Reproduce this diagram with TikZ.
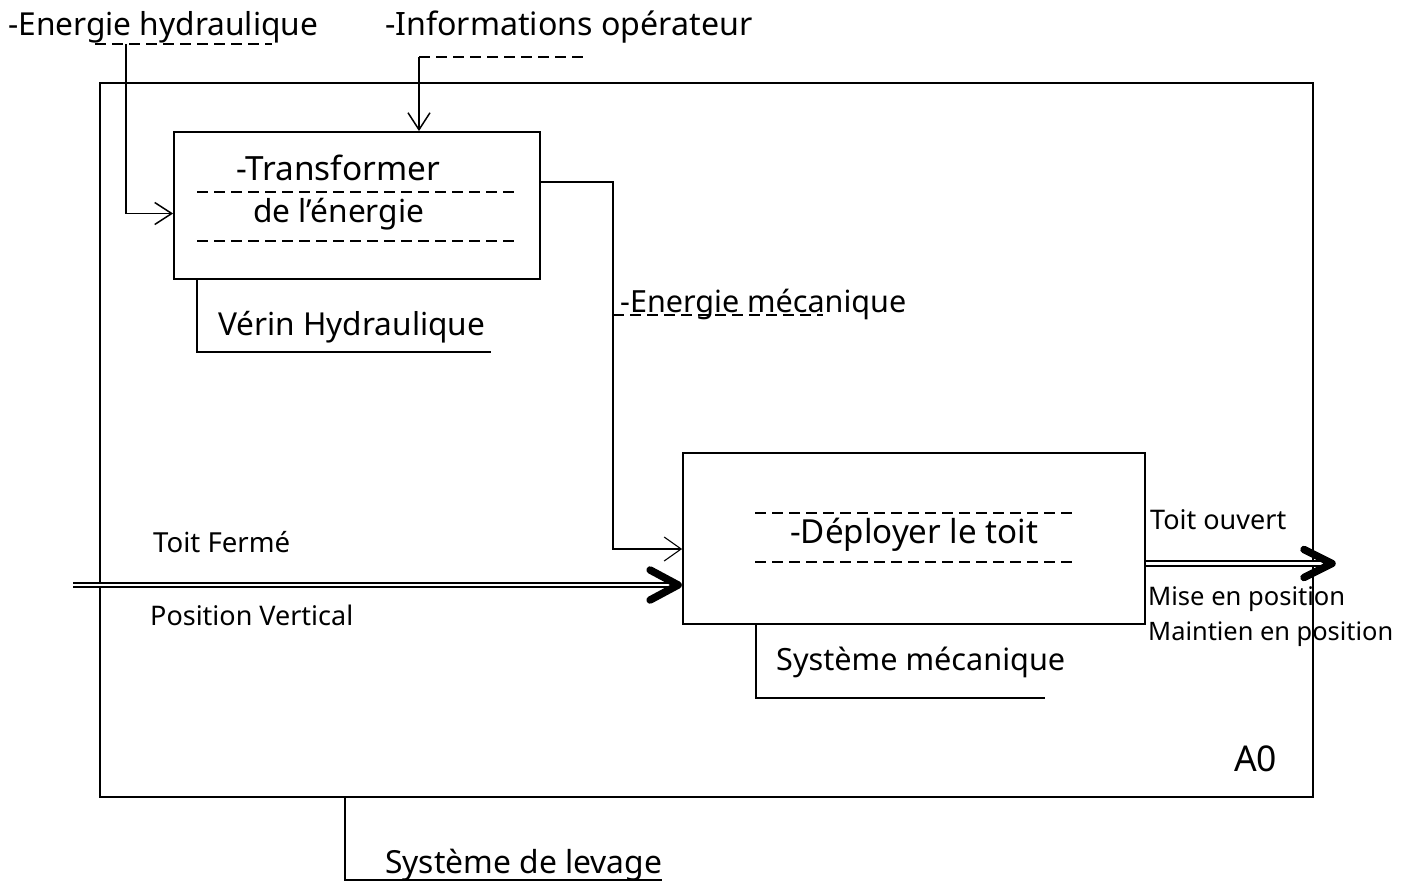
\documentclass[tikz,border=0pt]{standalone}
\usepackage{fontspec}
\setmainfont{Noto Sans}
\usetikzlibrary{arrows.meta,calc}
\newcommand{\fitw}[2]{\resizebox{#1pt}{!}{#2}}
\begin{document}
\begin{tikzpicture}[x=1pt,y=-1pt,
  boxst/.style={draw, line width=1.8pt, inner sep=0pt},
  lbl/.style={inner sep=0pt, anchor=base west},
  conn/.style={line width=1.5pt},
  thinarrow/.style={conn, -{Straight Barb[length=17pt,width=22pt,line width=1.5pt]}},
  finearrow/.style={line width=1.1pt, -{Straight Barb[length=17pt,width=24pt,line width=1.1pt]}},
  dashln/.style={line width=1.5pt, dash pattern=on 11pt off 6pt},
  dbl/.style={double, double distance=2.6pt, line width=2pt},
  chev/.style={line width=7.5pt, line cap=round, line join=round},
  brk/.style={line width=1.5pt}]
\useasboundingbox (0,0) rectangle (1410,883);
\fill[white] (0,0) rectangle (1410,883);

% boxes
\node[boxst, minimum width=1213pt, minimum height=714pt] (outer) at (706.5,440) {};
\node[boxst, minimum width=366pt, minimum height=147pt] (b1) at (357,205.5) {};
\node[boxst, minimum width=462pt, minimum height=171pt] (b2) at (914,538.5) {};

% texts
\node[lbl] (hyd) at (8,36) {\fitw{310}{-Energie hydraulique}};
\node[lbl] (info) at (385,36) {\fitw{367}{-Informations opérateur}};
\node[lbl] (tr1) at (236,180) {\fitw{204}{-Transformer}};
\node[lbl] (tr2) at (253,222) {\fitw{171}{de l'énergie}};
\node[lbl] (verin) at (218,335) {\fitw{267}{Vérin Hydraulique}};
\node[lbl] (emec) at (620,312) {\fitw{286}{-Energie mécanique}};
\node[lbl] (depl) at (790,543) {\fitw{248}{-Déployer le toit}};
\node[lbl] (tf) at (153,552) {\fitw{137}{Toit Fermé}};
\node[lbl] (pv) at (150,625) {\fitw{203}{Position Vertical}};
\node[lbl] (to) at (1150,529) {\fitw{136}{Toit ouvert}};
\node[lbl] (mp) at (1148,605) {\fitw{197}{Mise en position}};
\node[lbl] (mtp) at (1148,640) {\fitw{245}{Maintien en position}};
\node[lbl] (smec) at (776,670) {\fitw{289}{Système mécanique}};
\node[lbl] (a0) at (1234,771) {\fitw{43}{A0}};
\node[lbl] (slev) at (385,873) {\fitw{277}{Système de levage}};

% dashed lines inside boxes
\draw[dashln] (197,192) -- (517,192);
\draw[dashln] (197,241) -- (517,241);
\draw[dashln] (755,513) -- (1075,513);
\draw[dashln] (755,562) -- (1075,562);

% energie hydraulique
\coordinate (hydtap) at (126,44);
\draw[dashln] (95,44) -- (272,44);
\draw[thinarrow] (hydtap) |- ($(b1.west)+(0,8)$);

% informations operateur
\coordinate (infotap) at (419,57);
\draw[dashln] (infotap) -- (587,57);
\draw[thinarrow] (infotap) -- (infotap |- b1.north);

% energie mecanique
\coordinate (mectap) at (613,315);
\draw[dashln] (mectap) -- (823,315);
\draw[finearrow] ($(b1.east)+(0,-23.5)$) -| (mectap) |- ($(b2.west)+(0,10.5)$);

% input double arrow
\coordinate (inA) at (73,585);
\coordinate (inTip) at ($(b2.west)+(-4,46.5)$);
\draw[dbl] (inA) -- ($(inTip)+(-6,0)$);
\draw[chev] ($(inTip)+(-28,-15)$) -- (inTip) -- ($(inTip)+(-28,15)$);

% output double arrow
\coordinate (outTip) at (1332,563.5);
\draw[dbl] ($(b2.east)+(0,25)$) -- ($(outTip)+(-6,0)$);
\draw[chev] ($(outTip)+(-28,-14)$) -- (outTip) -- ($(outTip)+(-28,14)$);

% mechanism brackets
\coordinate (vhEnd) at (491,352);
\draw[brk] ($(b1.south west)+(24,0)$) |- (vhEnd);
\coordinate (smEnd) at (1045,698);
\draw[brk] ($(b2.south west)+(74,0)$) |- (smEnd);
\coordinate (slEnd) at (662,880);
\draw[brk] ($(outer.south west)+(246,0)$) |- (slEnd);
\end{tikzpicture}
\end{document}
